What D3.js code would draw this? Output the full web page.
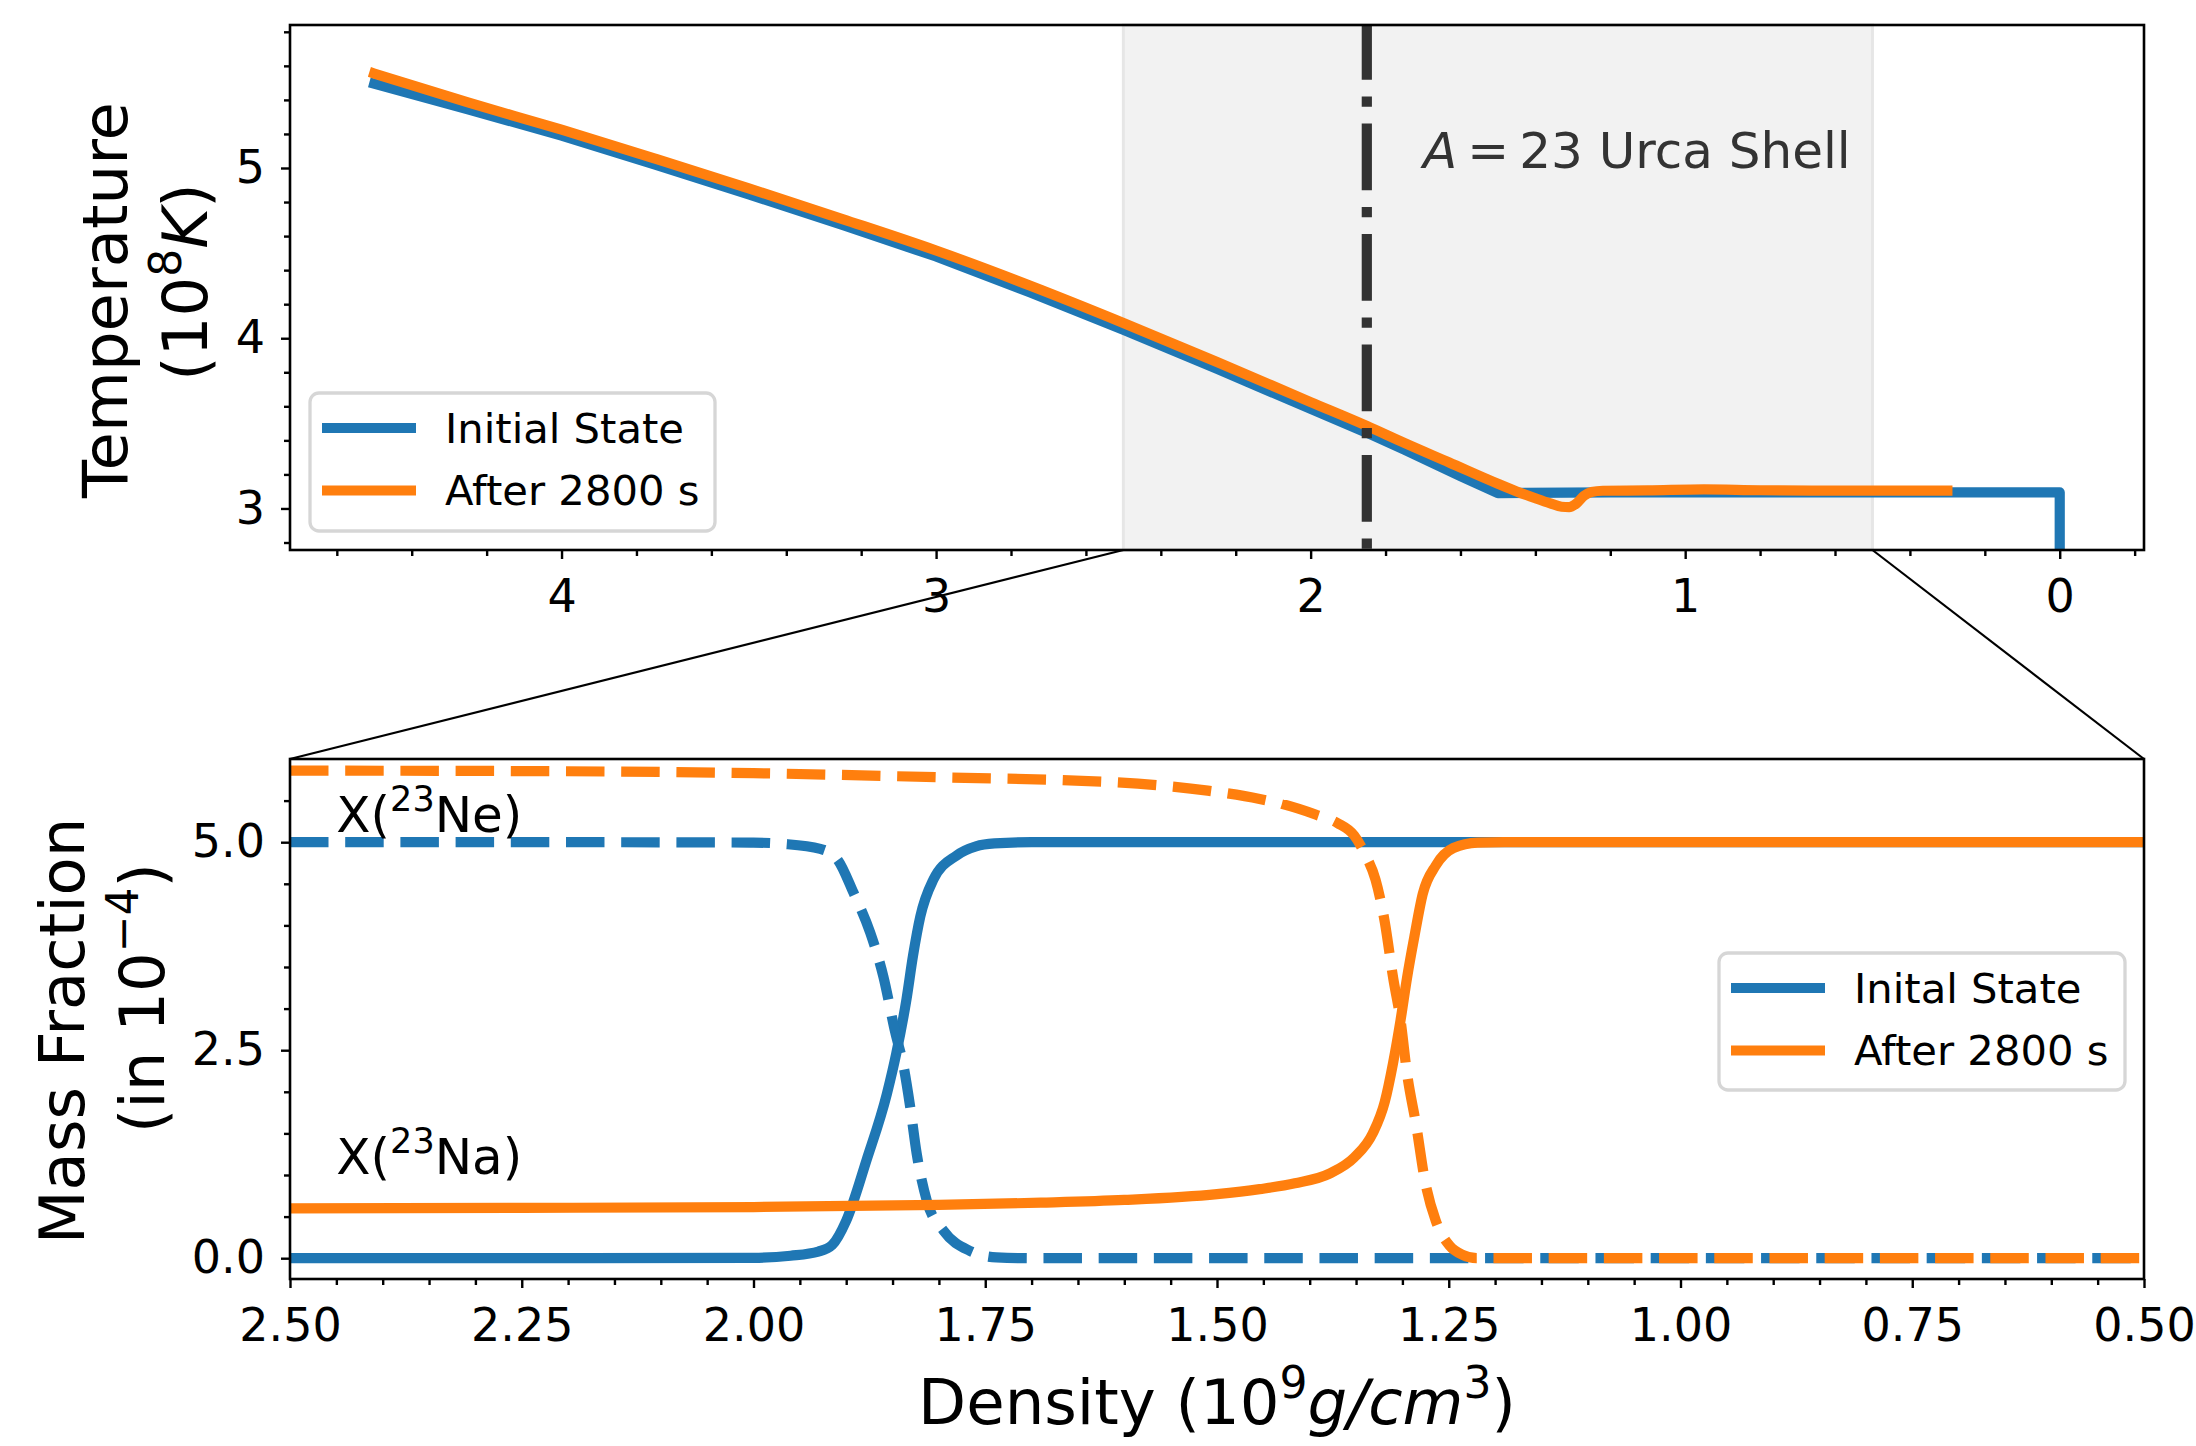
<!DOCTYPE html>
<html>
<head>
<meta charset="utf-8">
<script src="https://cdnjs.cloudflare.com/ajax/libs/d3/7.8.5/d3.min.js"></script>
<style>
  body { margin: 0; background: #fff; }
  svg { display: block; font-family: 'DejaVu Sans', sans-serif; }
</style>
</head>
<body>
<svg id="chart"></svg>
<script>
// upper panel: temperature (10^8 K) against density (10^9 g/cm^3)
let initialTemp = [[4.5,5.495],[4.25,5.345],[4.0,5.19],[3.75,5.02],[3.5,4.845],[3.25,4.665],[3.0,4.48],[2.75,4.27],[2.5,4.05],[2.25,3.82],[2.0,3.585],[1.85,3.445],[1.75,3.345],[1.6,3.19],[1.5,3.09],[1.2,3.095],[0.8,3.095],[0.4,3.095],[0.0,3.095],[0.0,2.6]]
let afterTemp = [[4.5,5.555],[4.25,5.385],[4.0,5.225],[3.75,5.055],[3.5,4.88],[3.25,4.70],[3.0,4.515],[2.75,4.31],[2.5,4.09],[2.25,3.86],[2.0,3.625],[1.85,3.485],[1.75,3.385],[1.63,3.27],[1.5,3.145],[1.45,3.10],[1.4,3.06],[1.36,3.03],[1.33,3.01],[1.31,3.008],[1.29,3.03],[1.27,3.075],[1.25,3.097],[1.22,3.104],[1.1,3.106],[0.95,3.112],[0.8,3.107],[0.6,3.105],[0.3,3.105]]

// lower panel: mass fractions (10^-4)
let initialNa = [[2.5,0],[2.2,0],[2.0,0.005],[1.96,0.03],[1.93,0.08],[1.915,0.16],[1.9,0.45],[1.878,1.18],[1.856,1.98],[1.846,2.46],[1.835,3.11],[1.828,3.63],[1.82,4.11],[1.806,4.55],[1.781,4.84],[1.76,4.95],[1.74,4.985],[1.7,5.0],[1.2,5.0],[0.5,5.0]]
let initialNe = [[2.5,5.0],[2.2,5.0],[2.0,4.995],[1.968,4.98],[1.928,4.92],[1.91,4.80],[1.892,4.39],[1.874,3.91],[1.86,3.39],[1.847,2.71],[1.838,2.30],[1.831,1.82],[1.824,1.26],[1.813,0.69],[1.795,0.33],[1.767,0.09],[1.738,0.01],[1.7,0],[1.2,0],[0.5,0]]
let afterNa = [[2.5,0.60],[2.25,0.605],[2.0,0.615],[1.8,0.64],[1.69,0.667],[1.6,0.70],[1.5,0.77],[1.454,0.83],[1.416,0.90],[1.378,1.02],[1.352,1.21],[1.332,1.50],[1.319,1.88],[1.31,2.35],[1.302,2.86],[1.295,3.37],[1.287,3.87],[1.278,4.38],[1.264,4.72],[1.245,4.93],[1.219,4.995],[1.19,5.0],[0.5,5.0]]
let afterNe = [[2.5,5.86],[2.25,5.855],[2.0,5.83],[1.8,5.78],[1.61,5.72],[1.51,5.62],[1.454,5.52],[1.43,5.46],[1.393,5.33],[1.37,5.23],[1.352,5.08],[1.34,4.85],[1.329,4.55],[1.319,4.04],[1.31,3.37],[1.302,2.86],[1.295,2.22],[1.285,1.59],[1.276,0.95],[1.264,0.45],[1.249,0.15],[1.235,0.04],[1.22,0.0],[0.5,0.0]]

let upperXTicks = [0, 1, 2, 3, 4]
let upperYTicks = [3, 4, 5]
let lowerXTicks = [2.5, 2.25, 2.0, 1.75, 1.5, 1.25, 1.0, 0.75, 0.5]
let lowerYTicks = [0, 2.5, 5.0]
let upperLegend = ['Initial State', 'After 2800 s']
let lowerLegend = ['Inital State', 'After 2800 s']

let shellRange = [2.5, 0.5]
let shellCenter = 1.85

let width = 2196
let height = 1446
let blue = '#1f77b4'
let orange = '#ff7f0e'
let lw = 10.2

let upperBox = {x0: 290, x1: 2144, y0: 25, y1: 550}
let lowerBox = {x0: 290, x1: 2144, y0: 759, y1: 1279}

let xUpper = d3.scaleLinear().domain([4.725, -0.225]).range([upperBox.x0, upperBox.x1])
let yUpper = d3.scaleLinear().domain([2.756, 5.84]).range([upperBox.y1, upperBox.y0])
let xLower = d3.scaleLinear().domain([2.5, 0.5]).range([lowerBox.x0, lowerBox.x1])
let yLower = d3.scaleLinear().domain([-0.25, 6.0]).range([lowerBox.y1, lowerBox.y0])

let svg = d3.select('#chart').attr('width', width).attr('height', height)
let defs = svg.append('defs')

let addClip = (id, box) => {
    defs.append('clipPath').attr('id', id)
        .append('rect')
        .attr('x', box.x0).attr('y', box.y0)
        .attr('width', box.x1 - box.x0).attr('height', box.y1 - box.y0)
}
addClip('clipUpper', upperBox)
addClip('clipLower', lowerBox)

let drawAxes = (box, xScale, yScale, xMajor, xMinor, yMajor, yMinor, xFmt, yFmt) => {
    let gx = svg.append('g')
        .attr('transform', 'translate(0,' + box.y1 + ')')
        .call(d3.axisBottom(xScale).tickValues(xMajor).tickFormat(xFmt).tickSize(9).tickPadding(20))
    let gxm = svg.append('g')
        .attr('transform', 'translate(0,' + box.y1 + ')')
        .call(d3.axisBottom(xScale).tickValues(xMinor).tickFormat('').tickSize(6))
    let gy = svg.append('g')
        .attr('transform', 'translate(' + box.x0 + ',0)')
        .call(d3.axisLeft(yScale).tickValues(yMajor).tickFormat(yFmt).tickSize(9).tickPadding(16))
    let gym = svg.append('g')
        .attr('transform', 'translate(' + box.x0 + ',0)')
        .call(d3.axisLeft(yScale).tickValues(yMinor).tickFormat('').tickSize(6))
    ;[gx, gxm, gy, gym].forEach(g => {
        g.select('.domain').remove()
        g.selectAll('line').attr('stroke', '#000').attr('stroke-width', 2.4)
        g.selectAll('text')
            .attr('fill', '#000')
            .style('font-family', "'DejaVu Sans', sans-serif")
            .style('font-size', '46px')
    })
    svg.append('rect')
        .attr('x', box.x0).attr('y', box.y0)
        .attr('width', box.x1 - box.x0).attr('height', box.y1 - box.y0)
        .attr('fill', 'none').attr('stroke', '#000').attr('stroke-width', 2.6)
}

let drawLine = (data, xScale, yScale, color, clip, dash, curve) => {
    let line = d3.line()
        .x(d => xScale(d[0]))
        .y(d => yScale(d[1]))
        .curve(curve)
    svg.append('path')
        .datum(data)
        .attr('clip-path', 'url(#' + clip + ')')
        .attr('d', line)
        .attr('fill', 'none')
        .attr('stroke', color)
        .attr('stroke-width', lw)
        .attr('stroke-linejoin', 'round')
        .attr('stroke-linecap', dash ? 'butt' : 'square')
        .attr('stroke-dasharray', dash || null)
}

let drawLegend = (x, y, w, h, labels) => {
    let g = svg.append('g').attr('transform', 'translate(' + x + ',' + y + ')')
    g.append('rect')
        .attr('width', w).attr('height', h)
        .attr('rx', 9).attr('ry', 9)
        .attr('fill', 'rgba(255,255,255,0.8)')
        .attr('stroke', '#d6d6d6').attr('stroke-width', 3.3)
    ;[blue, orange].forEach((c, i) => {
        g.append('line')
            .attr('x1', 12).attr('x2', 106)
            .attr('y1', 35 + i * 62.5).attr('y2', 35 + i * 62.5)
            .attr('stroke', c).attr('stroke-width', lw)
        g.append('text')
            .attr('x', 135).attr('y', 50 + i * 62)
            .style('font-size', '41.7px')
            .text(labels[i])
    })
}

// shaded Urca shell region and zoom connectors
svg.append('rect')
    .attr('x', xUpper(shellRange[0])).attr('y', upperBox.y0)
    .attr('width', xUpper(shellRange[1]) - xUpper(shellRange[0]))
    .attr('height', upperBox.y1 - upperBox.y0)
    .attr('fill', 'rgb(242,242,242)')
    .attr('stroke', 'rgb(230,230,230)').attr('stroke-width', 3)

shellRange.forEach(d => {
    svg.append('line')
        .attr('x1', xUpper(d)).attr('y1', upperBox.y1)
        .attr('x2', xLower(d)).attr('y2', lowerBox.y0)
        .attr('stroke', '#000').attr('stroke-width', 2.2)
})

// upper panel
drawLine(initialTemp, xUpper, yUpper, blue, 'clipUpper', null, d3.curveLinear)
drawLine(afterTemp, xUpper, yUpper, orange, 'clipUpper', null, d3.curveMonotoneX)

svg.append('line')
    .attr('x1', xUpper(shellCenter)).attr('x2', xUpper(shellCenter))
    .attr('y1', upperBox.y0).attr('y2', upperBox.y1)
    .attr('stroke', '#333').attr('stroke-width', lw)
    .attr('stroke-dasharray', '66.7,16.7,10.4,16.7')
    .attr('stroke-dashoffset', 12)

let shell = svg.append('text')
    .attr('x', xUpper(1.7)).attr('y', yUpper(5.0))
    .attr('fill', '#333')
    .style('font-size', '50px')
shell.append('tspan').style('font-style', 'italic').text('A')
shell.append('tspan').attr('dx', 10).text('=')
shell.append('tspan').attr('dx', 10).text('23 Urca Shell')

drawAxes(upperBox, xUpper, yUpper, upperXTicks,
    d3.range(-1, 24).filter(i => i % 5 != 0).map(i => i / 5),
    upperYTicks,
    d3.range(14, 30).filter(i => i % 5 != 0).map(i => i / 5),
    d3.format('d'), d3.format('d'))

drawLegend(310, 393, 405, 138, upperLegend)

// lower panel
drawLine(initialNa, xLower, yLower, blue, 'clipLower', null, d3.curveMonotoneX)
drawLine(initialNe, xLower, yLower, blue, 'clipLower', '38.5,16.7', d3.curveMonotoneX)
drawLine(afterNa, xLower, yLower, orange, 'clipLower', null, d3.curveMonotoneX)
drawLine(afterNe, xLower, yLower, orange, 'clipLower', '38.5,16.7', d3.curveMonotoneX)

let isoLabel = (x, y, sym) => {
    let t = svg.append('text')
        .attr('x', xLower(x)).attr('y', yLower(y))
        .style('font-size', '50px')
    t.append('tspan').text('X(')
    t.append('tspan').attr('dy', -21).style('font-size', '35px').text('23')
    t.append('tspan').attr('dy', 21).text(sym + ')')
}
isoLabel(2.45, 5.12, 'Ne')
isoLabel(2.45, 1.01, 'Na')

drawAxes(lowerBox, xLower, yLower, lowerXTicks,
    d3.range(10, 51).filter(i => i % 5 != 0).map(i => i / 20),
    lowerYTicks,
    d3.range(0, 12).filter(i => i % 5 != 0).map(i => i / 2),
    d3.format('.2f'), d3.format('.1f'))

drawLegend(1719, 953, 406, 137, lowerLegend)

// axis titles
let rotLabel = (x, y, parts) => {
    let t = svg.append('text')
        .attr('transform', 'translate(' + x + ',' + y + ') rotate(-90)')
        .attr('text-anchor', 'middle')
        .style('font-size', '62.5px')
    parts.forEach(p => {
        let s = t.append('tspan').text(p.t)
        if (p.dy) s.attr('dy', p.dy)
        if (p.sup) s.style('font-size', '44px')
        if (p.it) s.style('font-style', 'italic')
    })
}
rotLabel(127, 300, [{t: 'Temperature'}])
rotLabel(207, 282, [{t: '(10'}, {t: '8', sup: true, dy: -26}, {t: 'K', it: true, dy: 26}, {t: ')'}])
rotLabel(84, 1031, [{t: 'Mass Fraction'}])
rotLabel(164, 998, [{t: '(in 10'}, {t: '\u22124', sup: true, dy: -26}, {t: ')', dy: 26}])

let xt = svg.append('text')
    .attr('x', (lowerBox.x0 + lowerBox.x1) / 2).attr('y', 1424)
    .attr('text-anchor', 'middle')
    .style('font-size', '62.5px')
xt.append('tspan').text('Density (10')
xt.append('tspan').attr('dy', -26).style('font-size', '44px').text('9')
xt.append('tspan').attr('dy', 26).style('font-style', 'italic').text('g/cm')
xt.append('tspan').attr('dy', -26).style('font-size', '44px').text('3')
xt.append('tspan').attr('dy', 26).text(')')
</script>
</body>
</html>
